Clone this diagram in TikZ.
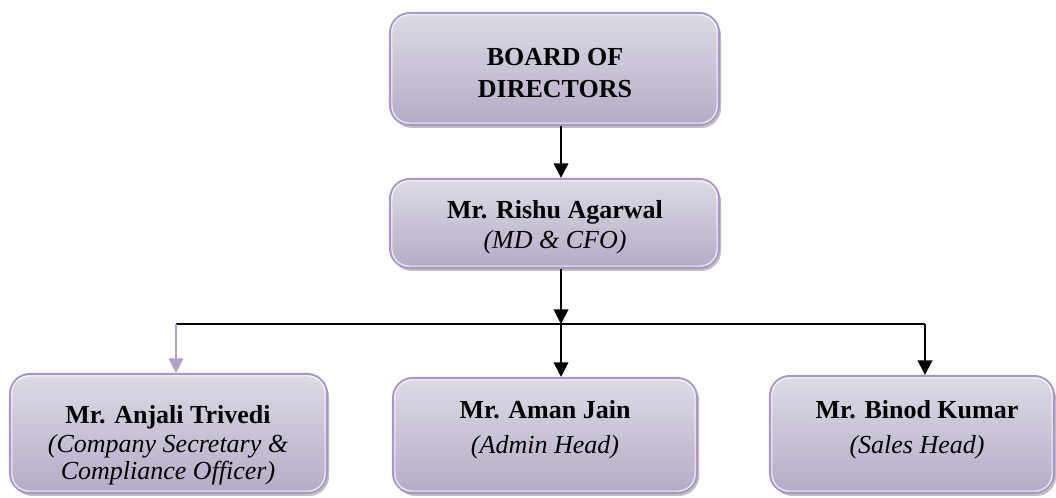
\documentclass[tikz,border=0pt]{standalone}
\usepackage{fontspec}
\setmainfont{Liberation Serif}
\usetikzlibrary{arrows.meta,shadows,calc}
\definecolor{boxtop}{RGB}{221,219,229}
\definecolor{boxbot}{RGB}{181,171,199}
\definecolor{boxline}{RGB}{168,152,200}
\definecolor{lavarrow}{RGB}{176,160,204}
\tikzset{
  orgbox/.style={draw=boxline, line width=1.6pt, rounded corners=15pt,
    top color=boxtop, bottom color=boxbot, inner sep=0pt,
    drop shadow={shadow xshift=1.6pt, shadow yshift=-2.2pt, opacity=0.45, fill=black!55}},
  hilite/.style={draw=white, line width=0.9pt, rounded corners=13pt, opacity=0.8},
  nm/.style={anchor=base, inner sep=0pt, font=\fontsize{19.5}{24}\selectfont\bfseries},
  rl/.style={anchor=base, inner sep=0pt, font=\fontsize{19.5}{24}\selectfont\itshape},
  conn/.style={line width=1.5pt, -{Triangle[width=11pt,length=11pt]}},
  bus/.style={line width=1.2pt},
}
\newcommand{\boxat}[5]{% name, cx, cy, w, h
  \node[orgbox, minimum width=#4*0.75pt, minimum height=#5*0.75pt] (#1) at (#2,#3) {};
  \draw[hilite] ([shift={(2.2pt,-2.2pt)}]#1.north west) rectangle ([shift={(-2.2pt,2.2pt)}]#1.south east);
}
\begin{document}
\begin{tikzpicture}[x=0.75pt,y=-0.75pt]
\useasboundingbox (0,0) rectangle (1056,497);
% boxes
\boxat{bod}{554.5}{69}{329}{112}
\boxat{ris}{554.5}{223.5}{329}{89}
\boxat{anj}{168.5}{433.5}{317}{119}
\boxat{ama}{545}{435.5}{304}{115}
\boxat{bin}{912}{434.5}{284}{117}
% texts
\node[nm] (bodt1) at (555,65) {BOARD OF};
\node[nm] (bodt2) at (555,97) {DIRECTORS};
\node[nm] (rist1) at (555,218) {Mr. Rishu Agarwal};
\node[rl] (rist2) at (555,248) {(MD \& CFO)};
\node[nm] (anjt1) at (168,423) {Mr. Anjali Trivedi};
\node[rl] (anjt2) at (168,452) {(Company Secretary \&};
\node[rl] (anjt3) at (168,479) {Compliance Officer)};
\node[nm] (amat1) at (545,418) {Mr. Aman Jain};
\node[rl] (amat2) at (545,453) {(Admin Head)};
\node[nm] (bint1) at (917,418) {Mr. Binod Kumar};
\node[rl] (bint2) at (917,453) {(Sales Head)};
% bus coordinates
\coordinate (busL) at (176,324);
\coordinate (busM) at (561,324);
\coordinate (busR) at (925,324);
% connectors
\draw[conn] (bod.south -| busM) -- (ris.north -| busM);
\draw[conn] (ris.south -| busM) -- (busM);
\draw[bus] (busL) -- (busR);
\draw[conn] (busM) -- (ama.north -| busM);
\draw[conn] (busR) -- (bin.north -| busR);
\draw[conn, draw=lavarrow, fill=lavarrow] (busL) -- (anj.north -| busL);
\end{tikzpicture}
\end{document}
